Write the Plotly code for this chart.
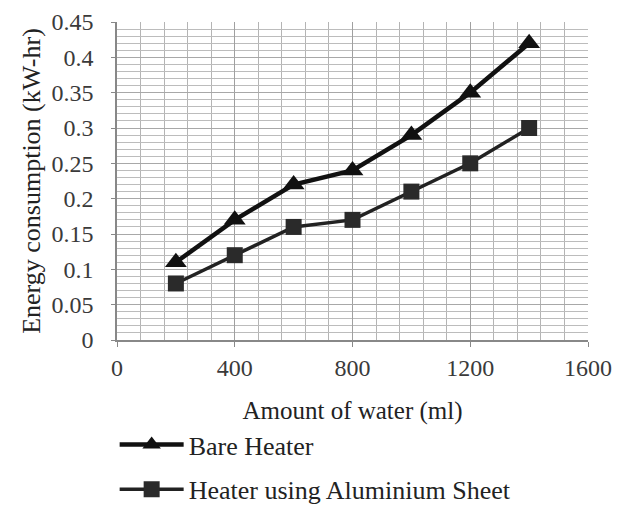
import plotly.graph_objects as go

water_ml = [200, 400, 600, 800, 1000, 1200, 1400]
bare_heater = [0.11, 0.17, 0.22, 0.24, 0.29, 0.35, 0.42]
aluminium_sheet = [0.08, 0.12, 0.16, 0.17, 0.21, 0.25, 0.30]
series_names = ["Bare Heater", "Heater using Aluminium Sheet"]

FONT = "'Times New Roman', 'Liberation Serif', serif"
TXT = "#222222"

fig = go.Figure()
fig.add_trace(go.Scatter(
    x=water_ml, y=bare_heater, name=series_names[0], mode="lines+markers",
    line=dict(color="#111111", width=4.5),
    marker=dict(symbol="triangle-up", size=19, color="#111111"),
    legendgroup="a",
))
fig.add_trace(go.Scatter(
    x=water_ml, y=aluminium_sheet, name=series_names[1], mode="lines+markers",
    line=dict(color="#222222", width=3.5),
    marker=dict(symbol="square", size=16, color="#2a2a2a"),
    legendgroup="b",
))

fig.update_layout(
    width=618, height=506,
    margin=dict(l=117, r=30, t=22, b=166, autoexpand=False),
    paper_bgcolor="white", plot_bgcolor="white",
    font=dict(family=FONT, size=24, color=TXT),
    showlegend=True,
    legend=dict(x=-0.005, xanchor="left", y=-0.255, yanchor="top",
                traceorder="grouped", tracegroupgap=8, itemwidth=64,
                font=dict(family=FONT, size=26, color=TXT),
                bgcolor="rgba(0,0,0,0)"),
    xaxis=dict(
        range=[0, 1600], dtick=400, tick0=0,
        showgrid=True, gridcolor="#a0a0a0", gridwidth=1,
        minor=dict(dtick=80, showgrid=True, gridcolor="#b4b4b4", gridwidth=1),
        showline=True, linecolor="#888888", linewidth=1.5,
        ticks="outside", ticklen=5, tickcolor="#888888",
        zeroline=False,
        title=dict(text="Amount of water (ml)", font=dict(size=25, family=FONT, color=TXT), standoff=22),
        tickfont=dict(size=24, family=FONT, color="#3a3a3a"),
        ticklabelstandoff=0,
    ),
    yaxis=dict(
        range=[0, 0.45], dtick=0.05, tick0=0,
        showgrid=True, gridcolor="#a8a8a8", gridwidth=1,
        minor=dict(dtick=0.01, showgrid=True, gridcolor="#bcbcbc", gridwidth=1),
        showline=True, linecolor="#888888", linewidth=1.5,
        ticks="outside", ticklen=4, tickcolor="#888888",
        zeroline=False,
        title=dict(text="Energy consumption (kW-hr)", font=dict(size=26, family=FONT, color=TXT), standoff=3),
        tickfont=dict(size=24, family=FONT, color="#3a3a3a"),
        ticklabelstandoff=13,
    ),
)

fig.write_html("out.html")
